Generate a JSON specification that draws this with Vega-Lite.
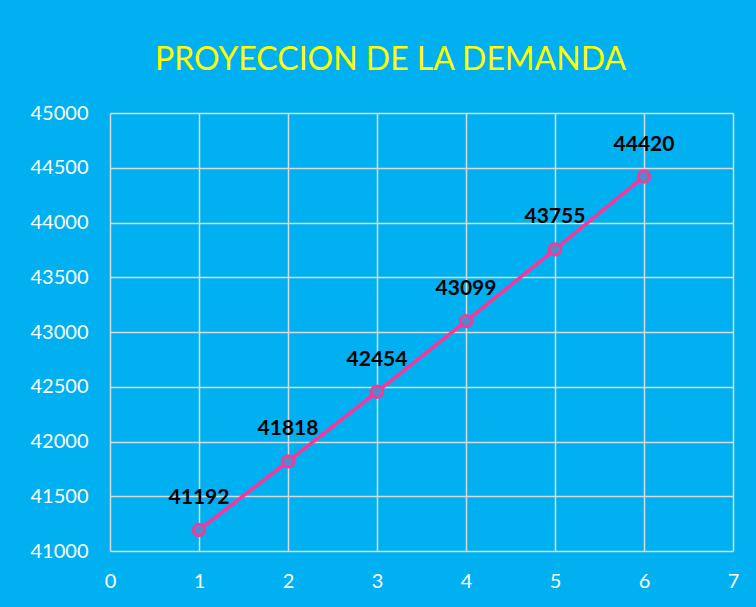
{
  "$schema": "https://vega.github.io/schema/vega-lite/v6.json",
  "width": 623,
  "height": 438,
  "autosize": {"type": "none"},
  "padding": {"left": 110, "top": 113, "right": 23, "bottom": 56},
  "background": "#00B0F0",
  "title": {
    "text": "PROYECCION DE LA DEMANDA",
    "color": "#FFFF00",
    "font": "Lato",
    "fontSize": 32,
    "fontWeight": "normal",
    "anchor": "middle",
    "dx": -31,
    "offset": 26
  },
  "config": {
    "view": {"stroke": null},
    "axis": {
      "labelFont": "Lato",
      "labelFontSize": 20,
      "labelColor": "#FFFFFF",
      "gridColor": "#D9D9D9",
      "gridWidth": 1.5,
      "gridOpacity": 1,
      "domain": false,
      "ticks": false,
      "title": null
    }
  },
  "data": {
    "values": [
      {"periodo": 1, "demanda": 41192},
      {"periodo": 2, "demanda": 41818},
      {"periodo": 3, "demanda": 42454},
      {"periodo": 4, "demanda": 43099},
      {"periodo": 5, "demanda": 43755},
      {"periodo": 6, "demanda": 44420}
    ]
  },
  "encoding": {
    "x": {
      "field": "periodo",
      "type": "quantitative",
      "scale": {"domain": [0, 7], "nice": false},
      "axis": {"values": [0, 1, 2, 3, 4, 5, 6, 7], "labelPadding": 20, "labelFlush": false}
    },
    "y": {
      "field": "demanda",
      "type": "quantitative",
      "scale": {"domain": [41000, 45000], "nice": false, "zero": false},
      "axis": {"values": [41000, 41500, 42000, 42500, 43000, 43500, 44000, 44500, 45000], "labelPadding": 22, "format": "d", "labelFlush": false}
    }
  },
  "layer": [
    {
      "mark": {"type": "line", "color": "#FF3399", "strokeWidth": 3.5}
    },
    {
      "mark": {"type": "point", "shape": "circle", "filled": true, "fill": "#5B86C5", "stroke": "#FF3399", "strokeWidth": 2.5, "size": 140, "opacity": 1}
    },
    {
      "mark": {"type": "text", "font": "Lato", "fontSize": 21, "fontWeight": "bold", "color": "#000000", "dy": -32, "baseline": "middle"},
      "encoding": {"text": {"field": "demanda", "type": "quantitative", "format": "d"}}
    }
  ]
}
